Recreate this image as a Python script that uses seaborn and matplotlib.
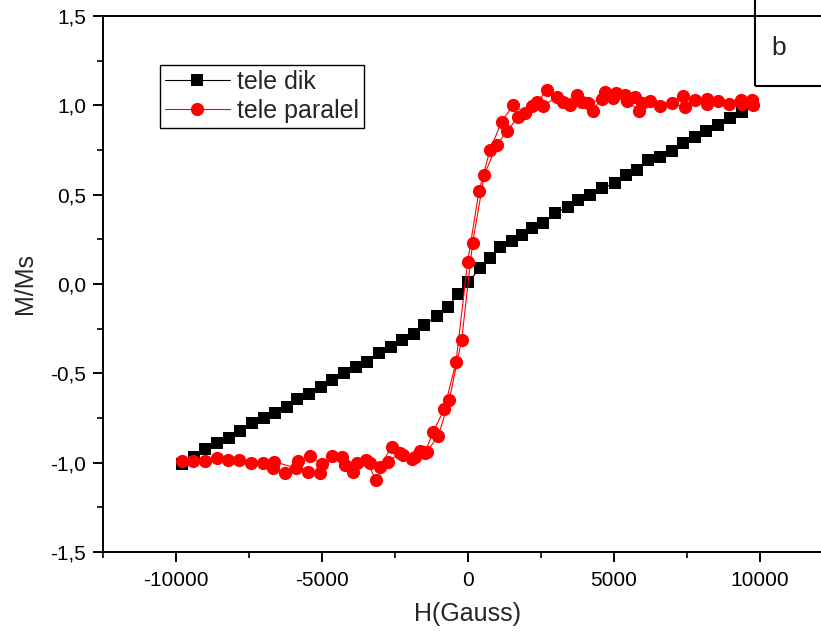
import matplotlib
matplotlib.use("Agg")
import matplotlib.pyplot as plt
import seaborn as sns
import numpy as np
from matplotlib.patches import Rectangle
from matplotlib.ticker import MultipleLocator, FuncFormatter

# tele dik (black squares)
dik_h = [-9800, -9400, -9000, -8600, -8200, -7800, -7400, -7000, -6600, -6200,
         -5850, -5450, -5050, -4650, -4250, -3850, -3450, -3050, -2650, -2250,
         -1850, -1500, -1050, -700, -330, 10, 410, 750, 1100, 1500,
         1840, 2180, 2580, 2980, 3430, 3780, 4180, 4580, 5030, 5430,
         5780, 6180, 6580, 6980, 7370, 7770, 8170, 8570, 8970, 9370, 9760]
dik_m = [-1.01, -0.966, -0.925, -0.888, -0.864, -0.821, -0.780, -0.752, -0.720, -0.686,
         -0.645, -0.616, -0.575, -0.537, -0.500, -0.466, -0.435, -0.388, -0.354, -0.313,
         -0.280, -0.229, -0.179, -0.130, -0.054, 0.01, 0.088, 0.144, 0.209, 0.24,
         0.274, 0.312, 0.340, 0.396, 0.433, 0.470, 0.498, 0.536, 0.564, 0.610,
         0.638, 0.694, 0.712, 0.746, 0.787, 0.824, 0.858, 0.890, 0.927, 0.964, 1.01]

# tele paralel (red circles), loop: increasing branch then decreasing branch
par_up_h = [-9805, -9007, -8207, -7432, -6667, -6267, -5812, -5411, -5011, -4326,
            -3928, -3493, -3151, -2730, -2329, -1928, -1644, -1473, -1188, -811,
            -411, -10, 377, 753, 1153, 1553, 1952, 2375, 2717, 3265,
            3744, 4121, 4579, 4976, 5377, 5719, 5948, 6575, 7353, 7774,
            8196, 8950, 9373, 9750]
par_up_m = [-0.990, -0.989, -0.985, -1.003, -1.028, -1.056, -0.989, -0.962, -1.007, -0.970,
            -1.050, -0.985, -1.097, -0.994, -0.948, -0.981, -0.933, -0.944, -0.826, -0.700,
            -0.438, 0.125, 0.520, 0.750, 0.908, 1.002, 0.955, 1.020, 1.086, 1.020,
            1.058, 1.011, 1.034, 1.039, 1.058, 1.045, 1.011, 0.996, 1.052, 1.030,
            1.007, 1.007, 1.007, 1.002]
par_down_h = [9716, 9340, 8573, 8175, 7432, 6976, 6233, 5856, 5434, 5068,
              4692, 4292, 3893, 3493, 3038, 2580, 2182, 1724, 1347, 982,
              559, 160, -216, -640, -1017, -1414, -1531, -1815, -2215, -2614,
              -3014, -3356, -3812, -4212, -4668, -5068, -5468, -5890, -6634, -7032,
              -7832, -8607, -9406]
par_down_m = [1.030, 1.030, 1.026, 1.034, 0.989, 1.011, 1.026, 0.970, 1.026, 1.067,
              1.076, 0.970, 1.020, 1.002, 1.048, 0.996, 0.996, 0.936, 0.858, 0.778,
              0.610, 0.231, -0.313, -0.649, -0.851, -0.938, -0.938, -0.966, -0.957, -0.910,
              -1.022, -1.000, -1.003, -1.013, -0.962, -1.056, -1.050, -1.031, -0.994, -1.000,
              -0.985, -0.976, -0.989]

par_h = par_up_h + par_down_h
par_m = par_up_m + par_down_m

sns.set_style("ticks")
plt.rcParams["font.family"] = ["Liberation Sans", "DejaVu Sans"]

fig = plt.figure(figsize=(8.21, 6.4), dpi=100)
ax = fig.add_axes([0.1255, 0.1375, 0.889, 0.8375])

sns.lineplot(x=dik_h, y=dik_m, sort=False, estimator=None, ax=ax,
             color="black", linewidth=0.8, marker="s", markersize=8.5,
             markeredgewidth=0, label="tele dik")
sns.lineplot(x=par_h, y=par_m, sort=False, estimator=None, ax=ax,
             color="#ff0000", linewidth=0.8, marker="o", markersize=9.5,
             markeredgewidth=0, label="tele paralel")

ax.set_xlim(-12500, 12500)
ax.set_ylim(-1.5, 1.5)
ax.xaxis.set_major_locator(MultipleLocator(5000))
ax.xaxis.set_minor_locator(MultipleLocator(2500))
ax.yaxis.set_major_locator(MultipleLocator(0.5))
ax.yaxis.set_minor_locator(MultipleLocator(0.25))
ax.xaxis.set_major_formatter(FuncFormatter(lambda v, p: f"{v:.0f}"))
ax.yaxis.set_major_formatter(FuncFormatter(lambda v, p: f"{v:.1f}".replace(".", ",")))

for s in ax.spines.values():
    s.set_linewidth(1.4)
    s.set_color("black")
ax.tick_params(axis="both", which="major", length=7, width=1.4, labelsize=15, colors="black")
ax.tick_params(axis="both", which="minor", length=4, width=1.4)
ax.tick_params(axis="x", which="major", pad=7)
ax.tick_params(axis="y", which="major", pad=5)

ax.set_xlabel("H(Gauss)", fontsize=18, labelpad=8)
ax.set_ylabel("M/Ms", fontsize=18, labelpad=10)

leg = ax.legend(loc="upper left", bbox_to_anchor=(0.078, 0.909), fontsize=18,
                frameon=True, fancybox=False, framealpha=1, edgecolor="black",
                handlelength=2.6, handletextpad=0.3, borderpad=0.2,
                labelspacing=0.2, borderaxespad=0)
leg.get_frame().set_linewidth(1.0)

# panel label box
ax.add_patch(Rectangle((0.893, 0.869), 0.2, 0.2, transform=ax.transAxes,
                       fill=False, edgecolor="black", linewidth=1.5, clip_on=False))
ax.text(0.926, 0.940, "b", transform=ax.transAxes, fontsize=19,
        ha="center", va="center")

fig.savefig("out.png", dpi=100)
